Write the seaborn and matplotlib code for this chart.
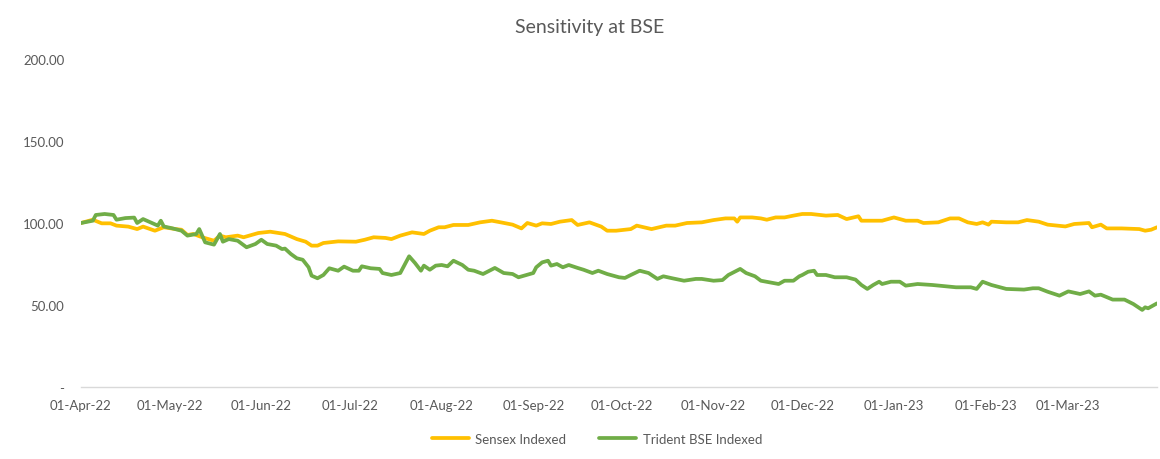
import pandas as pd
import matplotlib.pyplot as plt
import matplotlib.dates as mdates
from matplotlib.ticker import FixedLocator, FuncFormatter
import seaborn as sns

# Values (indexed, 01-Apr-22 = 100)
sensex_dates = [
    "2022-04-01", "2022-04-05", "2022-04-08", "2022-04-11", "2022-04-13", "2022-04-17",
    "2022-04-20", "2022-04-22", "2022-04-26", "2022-04-29", "2022-05-03", "2022-05-05",
    "2022-05-07", "2022-05-09", "2022-05-12", "2022-05-16", "2022-05-18", "2022-05-20",
    "2022-05-24", "2022-05-26", "2022-05-31", "2022-06-04", "2022-06-09", "2022-06-13",
    "2022-06-16", "2022-06-18", "2022-06-20", "2022-06-22", "2022-06-27", "2022-07-03",
    "2022-07-06", "2022-07-09", "2022-07-13", "2022-07-15", "2022-07-18", "2022-07-22",
    "2022-07-26", "2022-07-28", "2022-07-31", "2022-08-02", "2022-08-05", "2022-08-10",
    "2022-08-14", "2022-08-18", "2022-08-21", "2022-08-25", "2022-08-28", "2022-08-30",
    "2022-09-02", "2022-09-04", "2022-09-07", "2022-09-10", "2022-09-14", "2022-09-16",
    "2022-09-20", "2022-09-24", "2022-09-26", "2022-09-29", "2022-10-02", "2022-10-04",
    "2022-10-06", "2022-10-11", "2022-10-16", "2022-10-19", "2022-10-23", "2022-10-28",
    "2022-11-01", "2022-11-05", "2022-11-08", "2022-11-09", "2022-11-10", "2022-11-14",
    "2022-11-17", "2022-11-19", "2022-11-22", "2022-11-25", "2022-11-28", "2022-12-01",
    "2022-12-04", "2022-12-09", "2022-12-13", "2022-12-16", "2022-12-20", "2022-12-21",
    "2022-12-28", "2023-01-01", "2023-01-05", "2023-01-09", "2023-01-11", "2023-01-16",
    "2023-01-20", "2023-01-23", "2023-01-26", "2023-01-29", "2023-01-31", "2023-02-02",
    "2023-02-03", "2023-02-08", "2023-02-12", "2023-02-15", "2023-02-19", "2023-02-22",
    "2023-02-28", "2023-03-03", "2023-03-08", "2023-03-09", "2023-03-12", "2023-03-14",
    "2023-03-19", "2023-03-25", "2023-03-27", "2023-03-29", "2023-03-31",
]
sensex_values = [
    100.0, 102.0, 99.8, 99.8, 98.4, 97.8,
    96.3, 97.8, 95.3, 97.4, 96.3, 95.9,
    92.7, 93.3, 91.3, 89.2, 92.3, 91.3,
    92.3, 91.3, 93.9, 94.7, 93.3, 90.2,
    88.6, 86.2, 86.2, 87.8, 88.8, 88.6,
    89.8, 91.3, 90.9, 90.2, 92.3, 94.3,
    93.3, 95.3, 97.4, 97.4, 98.8, 98.8,
    100.4, 101.4, 100.4, 99.0, 96.7, 100.0,
    98.4, 99.8, 99.4, 100.8, 101.8, 98.8,
    100.4, 97.8, 95.3, 95.3, 95.9, 96.3,
    98.4, 96.3, 98.4, 98.4, 100.0, 100.4,
    101.8, 102.8, 102.8, 100.8, 103.4, 103.4,
    102.8, 102.0, 103.4, 103.4, 104.5, 105.5,
    105.5, 104.5, 104.9, 102.4, 104.1, 101.4,
    101.4, 103.4, 101.4, 101.4, 100.0, 100.4,
    102.8, 102.8, 100.4, 99.4, 100.4, 99.0,
    100.8, 100.4, 100.4, 101.8, 100.8, 99.0,
    97.9, 99.4, 100.0, 97.4, 99.0, 96.7,
    96.7, 96.3, 95.3, 95.9, 97.4,
]

trident_dates = [
    "2022-04-01", "2022-04-05", "2022-04-06", "2022-04-09", "2022-04-12", "2022-04-13",
    "2022-04-16", "2022-04-19", "2022-04-20", "2022-04-22", "2022-04-25", "2022-04-27",
    "2022-04-28", "2022-04-29", "2022-05-02", "2022-05-05", "2022-05-07", "2022-05-10",
    "2022-05-11", "2022-05-13", "2022-05-16", "2022-05-18", "2022-05-19", "2022-05-21",
    "2022-05-24", "2022-05-27", "2022-05-30", "2022-06-01", "2022-06-03", "2022-06-06",
    "2022-06-08", "2022-06-09", "2022-06-11", "2022-06-13", "2022-06-15", "2022-06-17",
    "2022-06-18", "2022-06-20", "2022-06-22", "2022-06-24", "2022-06-27", "2022-06-29",
    "2022-07-02", "2022-07-04", "2022-07-05", "2022-07-08", "2022-07-11", "2022-07-12",
    "2022-07-15", "2022-07-18", "2022-07-21", "2022-07-23", "2022-07-25", "2022-07-26",
    "2022-07-28", "2022-07-30", "2022-08-01", "2022-08-03", "2022-08-05", "2022-08-08",
    "2022-08-10", "2022-08-12", "2022-08-15", "2022-08-19", "2022-08-22", "2022-08-25",
    "2022-08-27", "2022-09-01", "2022-09-02", "2022-09-04", "2022-09-06", "2022-09-07",
    "2022-09-09", "2022-09-11", "2022-09-13", "2022-09-16", "2022-09-18", "2022-09-21",
    "2022-09-23", "2022-09-26", "2022-09-30", "2022-10-02", "2022-10-04", "2022-10-07",
    "2022-10-10", "2022-10-13", "2022-10-15", "2022-10-18", "2022-10-22", "2022-10-26",
    "2022-10-28", "2022-11-01", "2022-11-04", "2022-11-06", "2022-11-10", "2022-11-12",
    "2022-11-15", "2022-11-17", "2022-11-20", "2022-11-23", "2022-11-25", "2022-11-28",
    "2022-11-30", "2022-12-01", "2022-12-03", "2022-12-05", "2022-12-06", "2022-12-09",
    "2022-12-12", "2022-12-16", "2022-12-19", "2022-12-21", "2022-12-23", "2022-12-25",
    "2022-12-27", "2022-12-28", "2022-12-31", "2023-01-03", "2023-01-05", "2023-01-09",
    "2023-01-14", "2023-01-20", "2023-01-22", "2023-01-27", "2023-01-29", "2023-01-31",
    "2023-02-03", "2023-02-06", "2023-02-08", "2023-02-14", "2023-02-17", "2023-02-19",
    "2023-02-22", "2023-02-26", "2023-03-01", "2023-03-05", "2023-03-08", "2023-03-10",
    "2023-03-12", "2023-03-16", "2023-03-20", "2023-03-23", "2023-03-26", "2023-03-27",
    "2023-03-28", "2023-03-31",
]
trident_values = [
    100.0, 101.4, 104.9, 105.5, 104.9, 102.0,
    103.0, 103.3, 100.0, 102.4, 100.0, 98.4,
    101.4, 97.9, 96.7, 95.3, 92.3, 93.3,
    96.3, 88.2, 86.8, 93.3, 88.6, 90.2,
    89.2, 85.2, 87.2, 89.8, 87.2, 86.2,
    84.1, 84.4, 81.1, 78.5, 77.6, 73.0,
    67.9, 66.3, 68.3, 72.4, 70.9, 73.4,
    70.9, 70.9, 73.6, 72.4, 72.0, 69.5,
    68.3, 69.5, 79.7, 75.6, 70.9, 74.0,
    71.5, 74.0, 74.4, 73.6, 77.0, 74.4,
    71.5, 70.9, 68.9, 72.6, 69.5, 68.9,
    66.9, 69.5, 73.0, 76.0, 77.0, 74.0,
    75.0, 73.0, 74.4, 72.6, 71.5, 69.5,
    70.9, 68.9, 66.9, 66.5, 68.3, 70.9,
    69.5, 65.9, 67.5, 66.3, 64.8, 65.9,
    65.9, 64.8, 65.2, 68.3, 72.0, 69.5,
    67.5, 64.8, 63.8, 62.8, 64.8, 64.8,
    67.5, 68.3, 70.3, 70.9, 68.3, 68.3,
    66.9, 66.9, 65.5, 62.2, 59.8, 62.2,
    64.2, 62.8, 64.2, 64.2, 61.8, 62.8,
    62.2, 61.2, 60.8, 60.8, 59.8, 64.2,
    62.2, 60.8, 59.8, 59.4, 60.2, 60.2,
    58.1, 55.7, 58.3, 56.7, 58.3, 55.7,
    56.3, 53.3, 53.3, 50.6, 47.0, 48.6,
    48.0, 51.0,
]

series_names = ["Sensex Indexed", "Trident BSE Indexed"]
colors = {"Sensex Indexed": "#FFC000", "Trident BSE Indexed": "#70AD47"}
y_ticks = [0, 50, 100, 150, 200]

df = pd.concat([
    pd.DataFrame({"Date": pd.to_datetime(sensex_dates), "Value": sensex_values, "Series": series_names[0]}),
    pd.DataFrame({"Date": pd.to_datetime(trident_dates), "Value": trident_values, "Series": series_names[1]}),
], ignore_index=True)

sns.set_theme(style="white")
plt.rcParams["font.family"] = ["Lato", "DejaVu Sans"]

GREY = "#595959"
fig = plt.figure(figsize=(11.6, 4.6), dpi=100)
ax = fig.add_axes([81 / 1160, 1 - 388 / 460, (1157 - 81) / 1160, (388 - 60) / 460])

sns.lineplot(data=df, x="Date", y="Value", hue="Series", hue_order=series_names,
             palette=colors, linewidth=2.7, ax=ax)

ax.set_xlim(pd.Timestamp("2022-04-01"), pd.Timestamp("2023-03-31"))
ax.set_ylim(0, 200)
ax.yaxis.set_major_locator(FixedLocator(y_ticks))
ax.yaxis.set_major_formatter(FuncFormatter(lambda v, p: "-" if v == 0 else f"{v:.2f}"))
ax.xaxis.set_major_locator(mdates.MonthLocator())
ax.xaxis.set_major_formatter(mdates.DateFormatter("%d-%b-%y"))

for side in ["top", "right", "left"]:
    ax.spines[side].set_visible(False)
ax.spines["bottom"].set_color("#D9D9D9")
ax.spines["bottom"].set_linewidth(1.0)
ax.tick_params(axis="x", length=4, width=1, color="#D9D9D9", colors=GREY, labelsize=9.5, pad=5, direction="out")
ax.tick_params(axis="y", length=0, colors=GREY, labelsize=9.5, pad=12)
ax.grid(False)
ax.set_xlabel("")
ax.set_ylabel("")

fig.suptitle("Sensitivity at BSE", x=590 / 1160, y=1 - 28 / 460, va="center", fontsize=14, color=GREY)

ax.get_legend().remove()
handles, labels = ax.get_legend_handles_labels()
fig.legend(handles, labels, loc="center", bbox_to_anchor=(597 / 1160, 1 - 440 / 460), ncol=2,
           frameon=False, fontsize=9.5, labelcolor=GREY, handlelength=2.8, columnspacing=2.5,
           handletextpad=0.5)

fig.savefig("out.png", dpi=100)
